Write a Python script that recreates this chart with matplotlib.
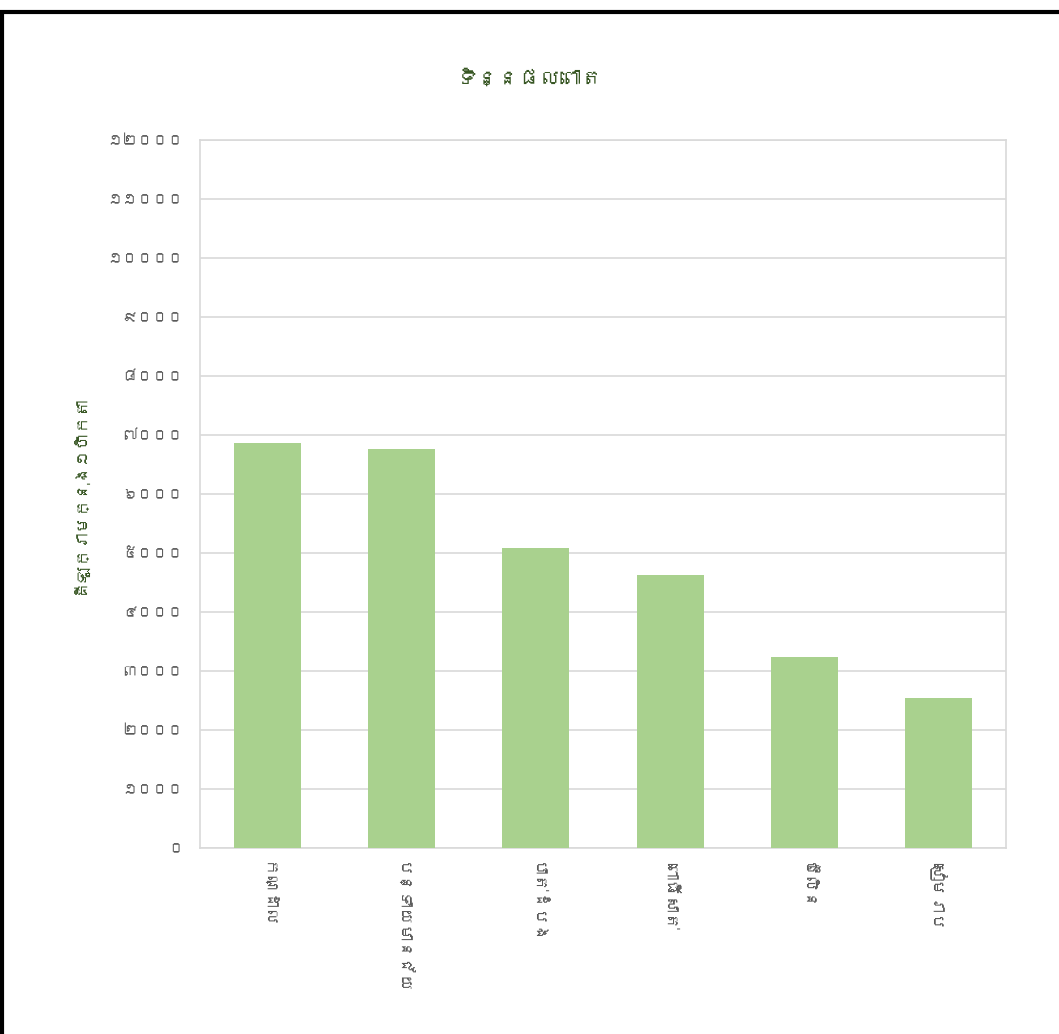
import matplotlib
matplotlib.use('Agg')
import matplotlib.pyplot as plt
from matplotlib import font_manager
from matplotlib.ft2font import FT2Font
import matplotlib.patches as mpatches

provinces = ['កណ្ដាល', 'បន្ទាយមានជ័យ', 'បាត់ដំបង', 'ពោធិ៍សាត់', 'ប៉ៃលិន', 'សៀមរាប']
yields = [6870, 6760, 5080, 4630, 3240, 2540]
y_ticks = [0, 1000, 2000, 3000, 4000, 5000, 6000, 7000, 8000, 9000, 10000, 11000, 12000]
title = 'ទិន្នផលពោត'
y_label = 'គីឡូក្រាមក្នុង១ហិកតា'

KHMER_DIGITS = str.maketrans('0123456789', '០១២៣៤៥៦៧៨៩')


def find_khmer_family():
    for f in font_manager.fontManager.ttflist:
        try:
            if 0x1780 in FT2Font(f.fname).get_charmap():
                return f.name
        except Exception:
            continue
    return None


khmer = find_khmer_family()
families = ([khmer] if khmer else []) + ['Noto Sans', 'DejaVu Sans']
plt.rcParams['font.family'] = families

fig = plt.figure(figsize=(10.59, 10.34), dpi=100)
ax = fig.add_axes([200 / 1059, 1 - 848 / 1034, 806 / 1059, 708 / 1034])

x = range(len(provinces))
ax.bar(x, yields, width=0.5, color='#A9D18E', zorder=3)

ax.set_xlim(-0.5, len(provinces) - 0.5)
ax.set_ylim(0, 12000)
ax.set_yticks(y_ticks)
ax.set_yticklabels([str(v).translate(KHMER_DIGITS) for v in y_ticks],
                   fontsize=11, color='#595959')
ax.set_xticks(list(x))
ax.set_xticklabels(provinces, rotation=-90, fontsize=12, color='#595959', va='top')
ax.tick_params(axis='y', length=0, pad=12)
ax.tick_params(axis='x', length=0, pad=10)
ax.yaxis.grid(True, color='#D9D9D9', linewidth=1.2, zorder=0)
for s in ax.spines.values():
    s.set_color('#D9D9D9')
    s.set_linewidth(1.2)

ax.set_ylabel(y_label, fontsize=12, color='#375623', labelpad=14)
fig.text(530 / 1059, 1 - 78 / 1034, title, fontsize=15, color='#375623',
         ha='center', va='center')

# outer chart frame
fig.add_artist(mpatches.Rectangle((1.5 / 1059, -0.01), 1.2, 1 - 11.5 / 1034 + 0.01,
                                  transform=fig.transFigure, fill=False,
                                  edgecolor='black', linewidth=3))

fig.savefig('out.png', dpi=100)
